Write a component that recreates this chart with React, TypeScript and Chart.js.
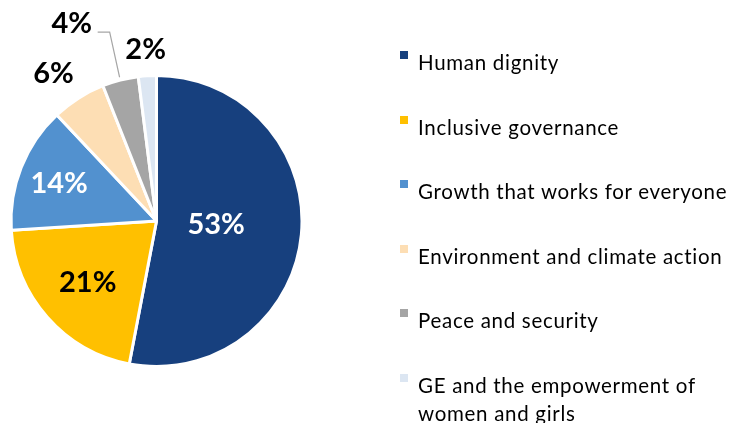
import React, { useEffect, useRef } from "react";
import { Chart, registerables } from "chart.js";

Chart.register(...registerables);

const categories = [
  "Human dignity",
  "Inclusive governance",
  "Growth that works for everyone",
  "Environment and climate action",
  "Peace and security",
  "GE and the empowerment of women and girls",
];
const shares = [53, 21, 14, 6, 4, 2];
const sliceColors = ["#17407E", "#FFC000", "#5291CF", "#FDDEB4", "#A5A5A5", "#DCE6F2"];
const labelColors = ["#FFFFFF", "#000000", "#FFFFFF", "#000000", "#000000", "#000000"];

// label placement: radial factor and angular shift (degrees)
const labelPlacement = [
  { r: 0.41, da: -3, leader: false },
  { r: 0.63, da: 0, leader: false },
  { r: 0.72, da: 0, leader: false },
  { r: 1.24, da: -2.4, leader: false },
  { r: 1.48, da: -8.8, leader: true },
  { r: 1.19, da: 0, leader: false },
];

const FONT = "Lato, 'Open Sans', sans-serif";

const labelPlugin = {
  id: "sliceLabels",
  afterDatasetsDraw(chart: any) {
    const ctx = chart.ctx;
    const meta = chart.getDatasetMeta(0);
    const data = chart.data.datasets[0].data as number[];
    const total = data.reduce((a, b) => a + b, 0);
    ctx.save();
    ctx.font = `bold 29px ${FONT}`;
    ctx.textAlign = "center";
    ctx.textBaseline = "middle";
    meta.data.forEach((arc: any, i: number) => {
      const p = arc.getProps(["x", "y", "startAngle", "endAngle", "outerRadius"], true);
      const mid = (p.startAngle + p.endAngle) / 2;
      const pl = labelPlacement[i];
      const a = mid + (pl.da * Math.PI) / 180;
      const lx = p.x + Math.cos(a) * p.outerRadius * pl.r;
      const ly = p.y + Math.sin(a) * p.outerRadius * pl.r;
      if (pl.leader) {
        const sx = p.x + Math.cos(mid) * p.outerRadius * 1.02;
        const sy = p.y + Math.sin(mid) * p.outerRadius * 1.02;
        ctx.strokeStyle = "#A6A6A6";
        ctx.lineWidth = 1.2;
        ctx.beginPath();
        ctx.moveTo(lx + 26, ly + 9);
        ctx.lineTo(lx + 38, ly + 9);
        ctx.lineTo(sx, sy);
        ctx.stroke();
      }
      ctx.fillStyle = labelColors[i];
      const pct = Math.round((data[i] / total) * 100);
      ctx.fillText(`${pct}%`, lx, ly + 1);
    });
    ctx.restore();
  },
};

export default function App() {
  const ref = useRef<HTMLCanvasElement | null>(null);
  useEffect(() => {
    if (!ref.current) return;
    const chart = new Chart(ref.current, {
      type: "pie",
      data: {
        labels: categories,
        datasets: [
          {
            data: shares,
            backgroundColor: sliceColors,
            borderColor: "#FFFFFF",
            borderWidth: 3,
          },
        ],
      },
      options: {
        responsive: false,
        animation: false,
        devicePixelRatio: 1,
        layout: { padding: { left: 9, top: 74, right: 427, bottom: 55 } },
        plugins: {
          legend: { display: false },
          tooltip: { enabled: false },
        },
      },
      plugins: [labelPlugin],
    });
    return () => chart.destroy();
  }, []);

  const last = categories.length - 1;

  return (
    <div
      style={{
        position: "fixed",
        left: 0,
        top: 0,
        width: 731,
        height: 423,
        background: "#FFFFFF",
        overflow: "hidden",
      }}
    >
      <canvas ref={ref} width={731} height={423} style={{ position: "absolute", left: 0, top: 0 }} />
      {categories.map((c, i) => (
        <div
          key={c}
          style={{
            position: "absolute",
            left: 400,
            top: 48 + i * 64.6,
            width: 331,
            fontFamily: FONT,
            fontSize: 20.5,
            letterSpacing: "0.7px",
            lineHeight: "28px",
            color: "#000000",
          }}
        >
          <span
            style={{
              position: "absolute",
              left: 0,
              top: 3,
              width: 8,
              height: 8,
              background: sliceColors[i],
            }}
          />
          <div
            style={{
              marginLeft: 18,
              width: 300,
              whiteSpace: i === last ? "normal" : "nowrap",
            }}
          >
            {c}
          </div>
        </div>
      ))}
    </div>
  );
}
